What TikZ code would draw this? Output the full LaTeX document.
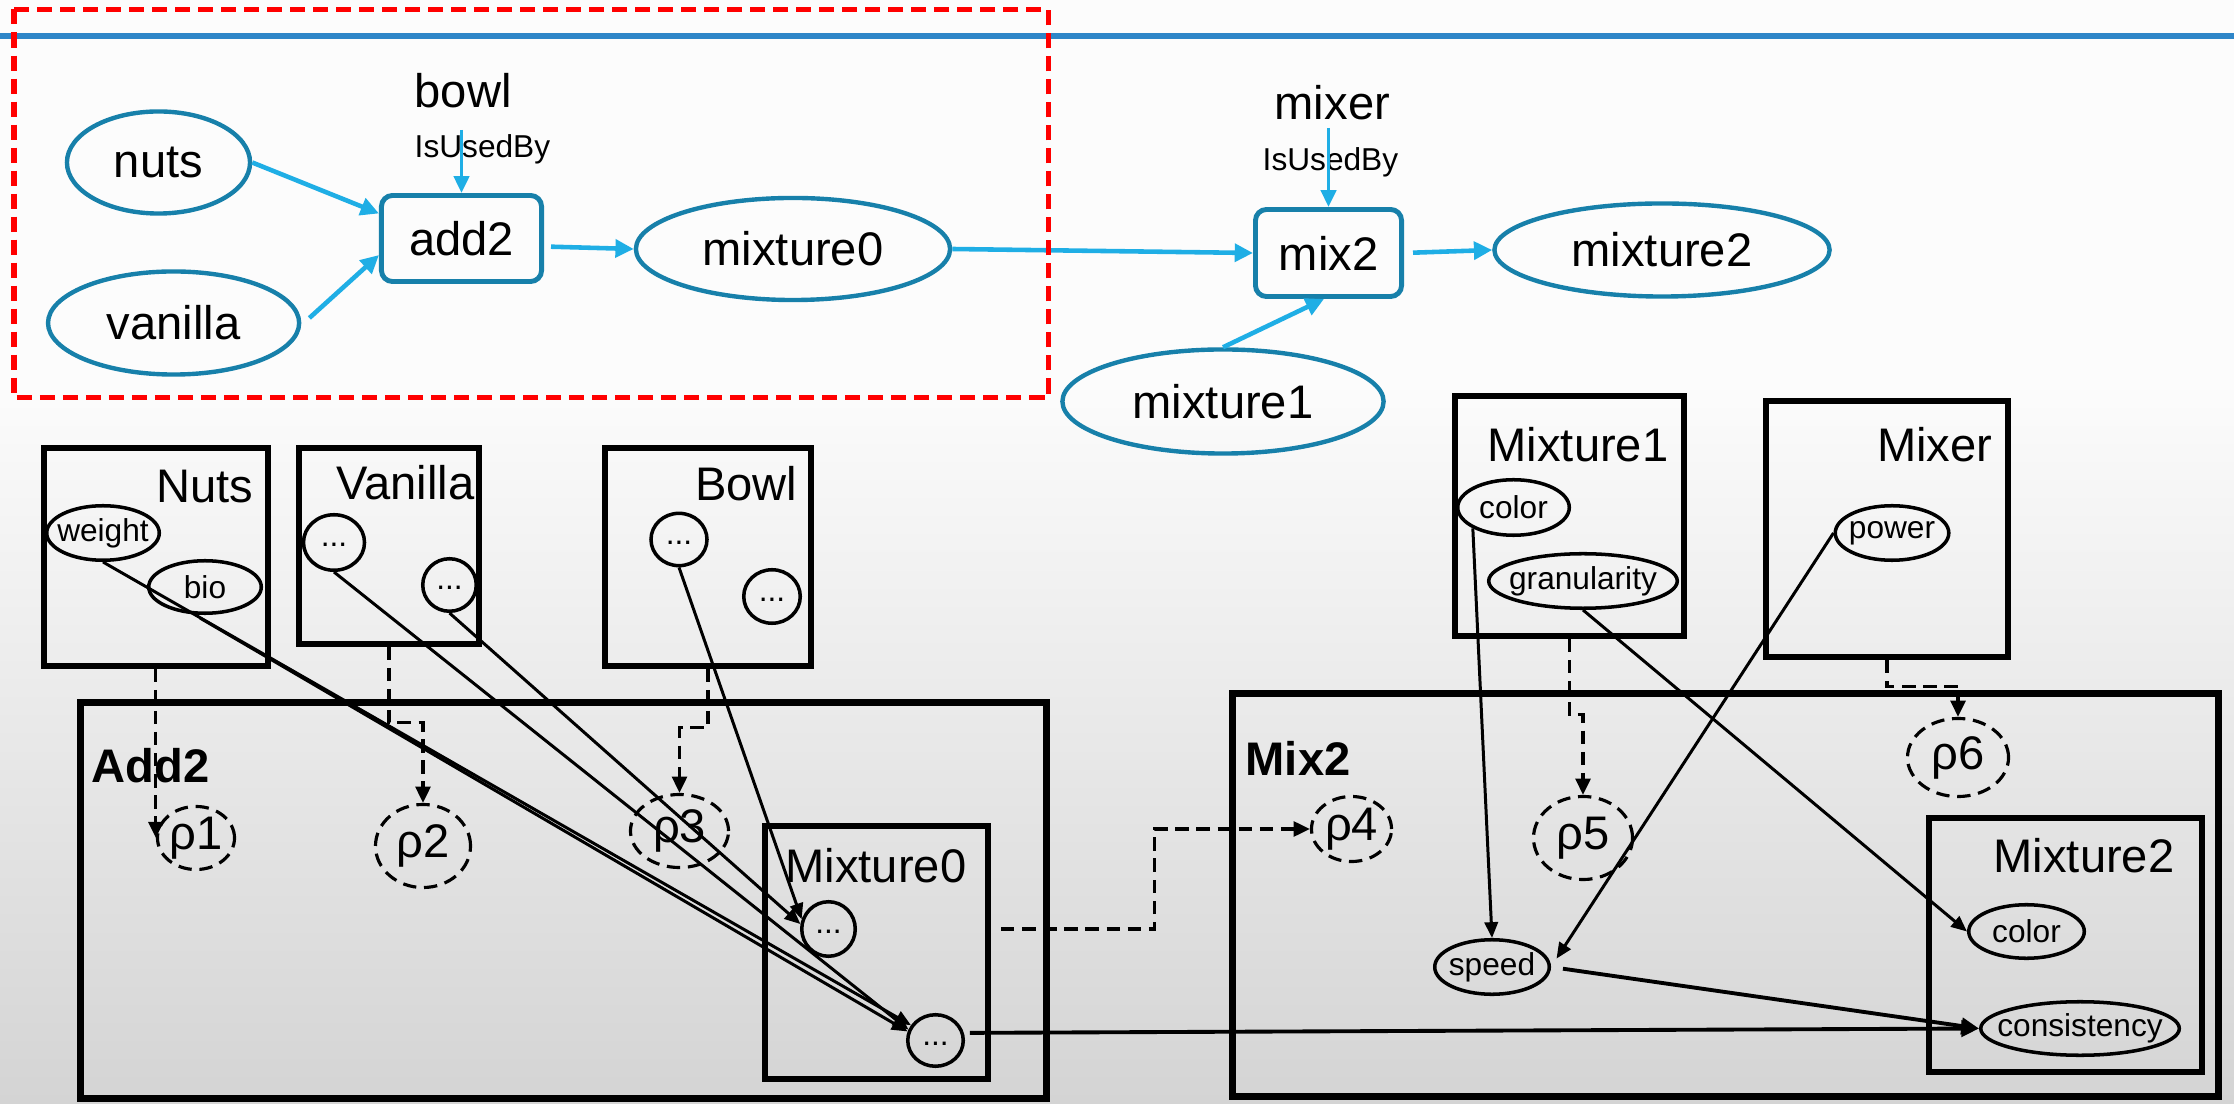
\documentclass[tikz,border=0pt]{standalone}
\usepackage{fontspec}
\setmainfont{Liberation Sans}
\usetikzlibrary{arrows.meta,shapes.geometric,calc}

\definecolor{nodeblue}{HTML}{1780AA}
\definecolor{flowcyan}{HTML}{1FAEE5}
\definecolor{rulerblue}{HTML}{2E86C8}
\definecolor{bgtop}{HTML}{FCFCFC}
\definecolor{bgbot}{HTML}{D4D4D4}

\newcommand\ctrtext[1]{\makebox[0pt]{#1}}
\newcommand\dotstext{\makebox[0pt]{\smash{\raisebox{-0.045cm}{...}}}}

\begin{document}
\begin{tikzpicture}[x=0.01cm,y=-0.01cm,
  big/.style={font=\fontsize{13.4}{16}\selectfont},
  small/.style={font=\fontsize{9}{11}\selectfont},
  sz/.style 2 args={minimum width=#1cm, minimum height=#2cm},
  procnode/.style={draw=nodeblue, line width=1.4pt, rounded corners=0.11cm, inner sep=0, big},
  datanode/.style={draw=nodeblue, line width=1.25pt, ellipse, inner sep=0, big},
  flow/.style={draw=flowcyan, line width=1.3pt, -{Triangle[length=5.2pt,width=5pt]}},
  useflow/.style={draw=flowcyan, line width=1.1pt, -{Triangle[length=4.8pt,width=4.3pt]}},
  objbox/.style={draw, line width=1.5pt, inner sep=0},
  groupbox/.style={draw, line width=2pt, inner sep=0},
  innerbox/.style={draw, line width=1.7pt, inner sep=0},
  attr/.style={draw, ellipse, line width=1pt, inner sep=0, small},
  rho/.style={draw, ellipse, line width=0.9pt, dash pattern=on 3.8pt off 2.2pt, inner sep=0, big},
  boxlabel/.style={big, anchor=base east, inner sep=0},
  grouplabel/.style={big, font=\fontsize{13.4}{16}\selectfont\bfseries, anchor=base west, inner sep=0},
  dep/.style={line width=0.9pt, dash pattern=on 3.8pt off 2.2pt, -{Triangle[length=4.6pt,width=4.2pt]}},
  conn/.style={line width=0.85pt, -{Triangle[length=4.5pt,width=3.8pt]}},
  thickconn/.style={line width=1.1pt, -{Triangle[length=5pt,width=4.6pt]}},
]
\useasboundingbox (0,0) rectangle (2234,1104);

% background: plain top, grey gradient below
\fill[bgtop] (0,0) rectangle (2234,380);
\shade[top color=bgtop, bottom color=bgbot] (0,380) rectangle (2234,1104);
\draw[rulerblue, line width=1.7pt] (0,36) -- (2234,36);

% ---------- process graph ----------
\node[datanode, sz={1.83}{1.02}] (nuts) at (158.5,162.5) {nuts};
\node[datanode, sz={2.51}{1.03}] (vanilla) at (173.6,323) {vanilla};
\node[procnode, sz={1.60}{0.86}] (add2) at (461.5,238.5) {add2};
\node[datanode, sz={3.14}{1.02}] (mixture0) at (793,249) {mixture0};
\node[procnode, sz={1.46}{0.87}] (mix2) at (1328.5,253) {mix2};
\node[datanode, sz={3.35}{0.93}] (mixture2) at (1662,250) {mixture2};
\node[datanode, sz={3.21}{1.04}] (mixture1) at (1223,401.5) {mixture1};

\node[big, anchor=base west, inner sep=0] (bowl) at (414,108) {bowl};
\node[small, anchor=base west, inner sep=0] (use1) at (414,158) {IsUsedBy};
\node[big, anchor=base west, inner sep=0] (mixer) at (1274,120) {mixer};
\node[small, anchor=base west, inner sep=0] (use2) at (1262,171) {IsUsedBy};

\draw[useflow] ($(bowl.base -| add2.north)+(0,22)$) -- (add2.north);
\draw[useflow] ($(mixer.base -| mix2.north)+(0,8)$) -- (mix2.north);
\draw[flow] (nuts.east) -- ([yshift=0.25cm]add2.west);
\draw[flow] ([xshift=0.08cm,yshift=0.05cm]vanilla.east) -- ([yshift=-0.165cm]add2.west);
\draw[flow, shorten <=0.07cm] ([yshift=-0.08cm]add2.east) -- (mixture0.west);
\draw[flow] (mixture0.east) -- (mix2.west);
\draw[flow, shorten <=0.09cm] (mix2.east) -- (mixture2.west);
\draw[flow] (mixture1.north) -- ([xshift=-0.045cm]mix2.south);

% ---------- object boxes ----------
\node[groupbox, sz={9.66}{3.96}] (add2box) at (563.5,900.5) {};
\node[groupbox, sz={9.86}{4.03}] (mix2box) at (1725.5,895) {};
\node[innerbox, sz={2.23}{2.53}] (m0box) at (876.5,952.5) {};
\node[innerbox, sz={2.73}{2.54}] (m2box) at (2065.5,945) {};
\node[objbox, sz={2.24}{2.18}] (nutsbox) at (156,557) {};
\node[objbox, sz={1.80}{1.96}] (vanbox) at (389,546) {};
\node[objbox, sz={2.06}{2.18}] (bowlbox) at (708,557) {};
\node[objbox, sz={2.29}{2.40}] (m1box) at (1569.5,516) {};
\node[objbox, sz={2.42}{2.56}] (mixerbox) at (1887,529) {};

\node[boxlabel] (nutslbl) at (254,503) {Nuts};
\node[boxlabel] (vanlbl) at (475,500) {Vanilla};
\node[boxlabel] (bowllbl) at (798,501) {Bowl};
\node[boxlabel] (m0lbl) at (967,882) {Mixture0};
\node[boxlabel] (m1lbl) at (1669,462) {Mixture1};
\node[boxlabel] (mixerlbl) at (1993,462) {Mixer};
\node[boxlabel] (m2lbl) at (2175,873) {Mixture2};
\node[grouplabel] (add2lbl) at (91,782) {Add2};
\node[grouplabel] (mix2lbl) at (1245,775) {Mix2};

% attributes
\node[attr, sz={1.125}{0.545}] (weight) at (103,533) {\ctrtext{weight}};
\node[attr, sz={1.125}{0.525}] (bio) at (205,587) {\ctrtext{bio}};
\node[attr, sz={0.61}{0.555}] (van1) at (334,542.5) {\dotstext};
\node[attr, sz={0.535}{0.525}] (van2) at (449.5,585) {\dotstext};
\node[attr, sz={0.56}{0.523}] (bowl1) at (679,539.5) {\dotstext};
\node[attr, sz={0.565}{0.535}] (bowl2) at (772,596.5) {\dotstext};
\node[attr, sz={0.535}{0.545}] (m0a) at (828.5,929) {\dotstext};
\node[attr, sz={0.555}{0.515}] (m0b) at (935.5,1040.5) {\dotstext};
\node[attr, sz={1.115}{0.555}] (m1color) at (1513.5,507.5) {\ctrtext{color}};
\node[attr, sz={1.885}{0.545}] (gran) at (1583,581) {\ctrtext{granularity}};
\node[attr, sz={1.135}{0.545}] (power) at (1892,533) {\ctrtext{power}};
\node[attr, sz={1.145}{0.545}] (speed) at (1492,967) {\ctrtext{speed}};
\node[attr, sz={1.155}{0.535}] (m2color) at (2026.5,931.5) {\ctrtext{color}};
\node[attr, sz={1.985}{0.535}] (cons) at (2080,1028.5) {\ctrtext{consistency}};

% parameters
\node[rho, sz={0.77}{0.63}] (p1) at (196,838) {\ctrtext{ρ1}};
\node[rho, sz={0.95}{0.83}] (p2) at (423,846) {\ctrtext{ρ2}};
\node[rho, sz={0.98}{0.73}] (p3) at (679.5,831) {\ctrtext{ρ3}};
\node[rho, sz={0.80}{0.65}] (p4) at (1351.5,829) {\ctrtext{ρ4}};
\node[rho, sz={0.99}{0.83}] (p5) at (1583,838) {\ctrtext{ρ5}};
\node[rho, sz={1.01}{0.78}] (p6) at (1958,757.5) {\ctrtext{ρ6}};

% parameter dependencies
\draw[dep] (nutsbox.south -| p1.west) -- (p1.west);
\draw[dep] (vanbox.south) -- ++(0,76) -| (p2.north);
\draw[dep] (bowlbox.south) -- ++(0,59) -| (p3.north);
\draw[dep] (m1box.south) -- ++(0,76) -| (p5.north);
\draw[dep] (mixerbox.south) -- ++(0,27) -| (p6.north);
\draw[dep] ($(m0box.east |- m0a.center)+(10,0)$) -| ($(p4.west)+(-155,0)$) -- (p4.west);

% attribute flows
\draw[conn] (weight.south) -- (m0b.148);
\draw[conn] ($(bio.south)+(-5,3)$) -- (m0b.162);
\draw[conn] (van1.south) -- (m0b.158);
\draw[conn] (van2.south) -- (m0a.170);
\draw[conn] (bowl1.south) -- (m0a.160);
\draw[thickconn, shorten <=0.06cm] (m0b.15) -- (cons.west);
\draw[conn] (m1color.south west) -- (speed.north);
\draw[conn, shorten >=0.1cm] (power.west) -- (speed.east);
\draw[conn] (gran.south) -- (m2color.west);
\draw[thickconn, shorten <=0.12cm] (speed.east) -- (cons.west);

% highlighted region
\draw[red, line width=1.6pt, dash pattern=on 0.15cm off 0.08cm] (13.7,9.5) rectangle (1048.5,397.5);
\end{tikzpicture}
\end{document}
